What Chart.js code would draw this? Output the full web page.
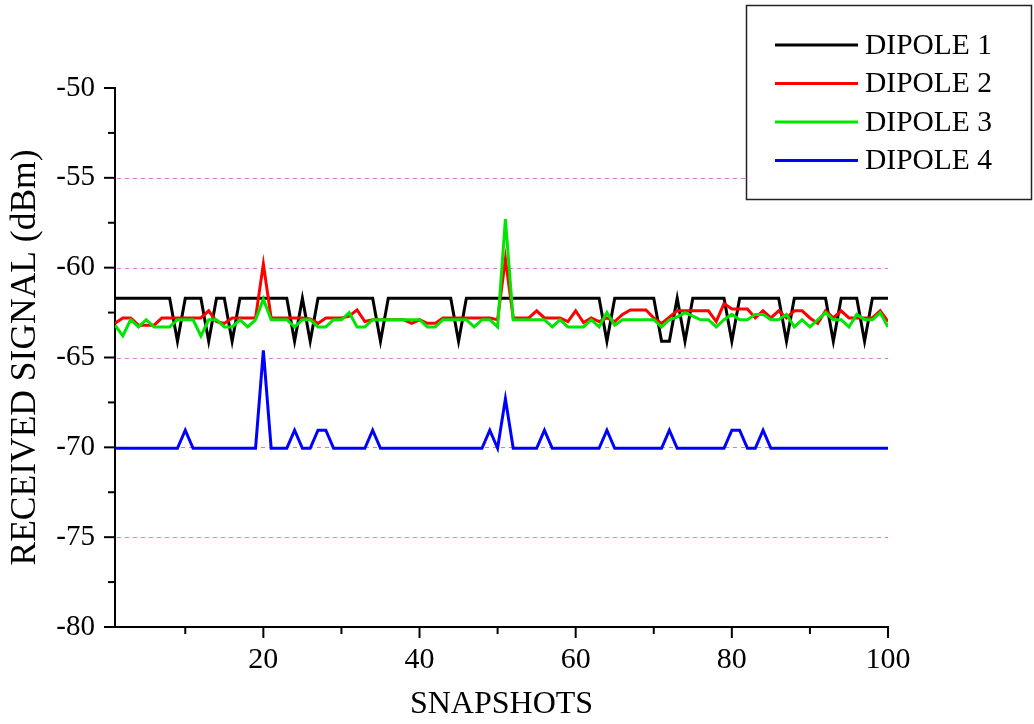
<!DOCTYPE html>
<html>
<head>
<meta charset="utf-8">
<title>Received signal</title>
<script src="https://cdn.jsdelivr.net/npm/chart.js@4.4.1/dist/chart.umd.min.js"></script>
<style>
  html, body { margin: 0; padding: 0; background: #fff; }
  canvas { display: block; }
</style>
</head>
<body>
<canvas id="chart" width="1034" height="724"></canvas>
<script>
// snapshot index 1..100
const snapshots = Array.from({ length: 100 }, (_, i) => i + 1)

const dipole1 = [
  -61.7, -61.7, -61.7, -61.7, -61.7, -61.7, -61.7, -61.7, -64.1, -61.7,
  -61.7, -61.7, -64.1, -61.7, -61.7, -64.1, -61.7, -61.7, -61.7, -61.7,
  -61.7, -61.7, -61.7, -64.1, -61.7, -64.1, -61.7, -61.7, -61.7, -61.7,
  -61.7, -61.7, -61.7, -61.7, -64.1, -61.7, -61.7, -61.7, -61.7, -61.7,
  -61.7, -61.7, -61.7, -61.7, -64.1, -61.7, -61.7, -61.7, -61.7, -61.7,
  -61.7, -61.7, -61.7, -61.7, -61.7, -61.7, -61.7, -61.7, -61.7, -61.7,
  -61.7, -61.7, -61.7, -64.1, -61.7, -61.7, -61.7, -61.7, -61.7, -61.7,
  -64.1, -64.1, -61.7, -64.1, -61.7, -61.7, -61.7, -61.7, -61.7, -64.1,
  -61.7, -61.7, -61.7, -61.7, -61.7, -61.7, -64.1, -61.7, -61.7, -61.7,
  -61.7, -61.7, -64.1, -61.7, -61.7, -61.7, -64.1, -61.7, -61.7, -61.7
]

const dipole2 = [
  -63.1, -62.8, -62.8, -63.2, -63.2, -63.2, -62.8, -62.8, -62.8, -62.8,
  -62.8, -62.8, -62.4, -63.0, -63.1, -62.8, -62.8, -62.8, -62.8, -59.8,
  -62.8, -62.8, -62.8, -62.8, -62.8, -62.85, -63.1, -62.8, -62.8, -62.8,
  -62.7, -62.35, -63.0, -62.9, -62.9, -62.9, -62.9, -62.9, -63.1, -62.9,
  -63.1, -63.1, -62.8, -62.8, -62.8, -62.8, -62.8, -62.8, -62.8, -62.9,
  -59.5, -62.8, -62.8, -62.8, -62.4, -62.8, -62.8, -62.8, -63.0, -62.4,
  -63.05, -62.8, -63.0, -62.8, -63.0, -62.6, -62.35, -62.35, -62.35, -62.8,
  -63.1, -62.75, -62.4, -62.4, -62.4, -62.4, -62.4, -63.0, -62.0, -62.3,
  -62.3, -62.3, -62.8, -62.4, -62.8, -62.4, -62.8, -62.4, -62.4, -62.8,
  -63.1, -62.4, -62.8, -62.4, -62.8, -62.8, -62.8, -62.8, -62.4, -63.0
]

const dipole3 = [
  -63.2, -63.8, -62.9, -63.3, -62.9, -63.3, -63.3, -63.3, -62.9, -62.9,
  -62.9, -63.8, -62.9, -62.9, -63.3, -63.3, -62.9, -63.3, -62.9, -61.75,
  -62.9, -62.9, -62.9, -63.3, -62.9, -62.9, -63.3, -63.3, -62.9, -62.9,
  -62.5, -63.3, -63.3, -62.9, -62.9, -62.9, -62.9, -62.9, -62.9, -62.9,
  -63.3, -63.3, -62.9, -62.9, -62.9, -62.9, -63.3, -62.9, -62.9, -63.3,
  -57.3, -62.9, -62.9, -62.9, -62.9, -62.9, -63.3, -62.9, -63.3, -63.3,
  -63.3, -62.9, -63.3, -62.5, -63.2, -62.9, -62.9, -62.9, -62.9, -62.9,
  -63.3, -62.9, -62.75, -62.5, -62.7, -62.9, -62.9, -63.3, -62.9, -62.6,
  -62.9, -62.9, -62.6, -62.6, -62.9, -62.9, -62.6, -63.3, -62.9, -63.3,
  -62.9, -62.5, -62.9, -62.9, -63.3, -62.6, -62.9, -62.9, -62.5, -63.3
]

const dipole4 = [
  -70.05, -70.05, -70.05, -70.05, -70.05, -70.05, -70.05, -70.05, -70.05, -69.05,
  -70.05, -70.05, -70.05, -70.05, -70.05, -70.05, -70.05, -70.05, -70.05, -64.6,
  -70.05, -70.05, -70.05, -69.05, -70.05, -70.05, -69.05, -69.05, -70.05, -70.05,
  -70.05, -70.05, -70.05, -69.05, -70.05, -70.05, -70.05, -70.05, -70.05, -70.05,
  -70.05, -70.05, -70.05, -70.05, -70.05, -70.05, -70.05, -70.05, -69.05, -70.05,
  -67.3, -70.05, -70.05, -70.05, -70.05, -69.05, -70.05, -70.05, -70.05, -70.05,
  -70.05, -70.05, -70.05, -69.05, -70.05, -70.05, -70.05, -70.05, -70.05, -70.05,
  -70.05, -69.05, -70.05, -70.05, -70.05, -70.05, -70.05, -70.05, -70.05, -69.05,
  -69.05, -70.05, -70.05, -69.05, -70.05, -70.05, -70.05, -70.05, -70.05, -70.05,
  -70.05, -70.05, -70.05, -70.05, -70.05, -70.05, -70.05, -70.05, -70.05, -70.05
]

const seriesNames = ['DIPOLE 1', 'DIPOLE 2', 'DIPOLE 3', 'DIPOLE 4']
const seriesColors = ['#000000', '#ff0000', '#00e600', '#0000ff']

const xTicks = [20, 40, 60, 80, 100]
const xMinorTicks = [10, 30, 50, 70, 90]
const yTicks = [-80, -75, -70, -65, -60, -55, -50]
const yMinorTicks = [-77.5, -72.5, -67.5, -62.5, -57.5, -52.5]
const yGridLines = [-75, -70, -65, -60, -55]

const SERIF = "'Liberation Serif', 'Times New Roman', serif"

const toPoints = arr => arr.map((v, i) => ({ x: snapshots[i], y: v }))

// pink dashed grid + outward tick marks, drawn off the chart's own scales
const axisDecor = {
  id: 'axisDecor',
  beforeDatasetsDraw(chart) {
    const { ctx, chartArea, scales: { y } } = chart
    ctx.save()
    ctx.strokeStyle = '#e070e0'
    ctx.lineWidth = 1
    ctx.setLineDash([4, 4])
    yGridLines.forEach(v => {
      const py = Math.round(y.getPixelForValue(v)) + 0.5
      ctx.beginPath()
      ctx.moveTo(chartArea.left + 2, py)
      ctx.lineTo(chartArea.right, py)
      ctx.stroke()
    })
    ctx.restore()
  },
  afterDraw(chart) {
    const { ctx, chartArea, scales: { x, y } } = chart
    ctx.save()
    ctx.strokeStyle = '#000'
    ctx.lineWidth = 2
    const tick = (x1, y1, x2, y2) => {
      ctx.beginPath()
      ctx.moveTo(x1, y1)
      ctx.lineTo(x2, y2)
      ctx.stroke()
    }
    const left = chartArea.left
    const bottom = chartArea.bottom
    yTicks.forEach(v => { const py = y.getPixelForValue(v); tick(left, py, left - 11, py) })
    yMinorTicks.forEach(v => { const py = y.getPixelForValue(v); tick(left, py, left - 7, py) })
    xTicks.forEach(v => { const px = x.getPixelForValue(v); tick(px, bottom, px, bottom + 11) })
    xMinorTicks.forEach(v => { const px = x.getPixelForValue(v); tick(px, bottom, px, bottom + 7) })
    ctx.restore()
  }
}

// boxed legend in the top right corner
const boxLegend = {
  id: 'boxLegend',
  afterDraw(chart) {
    const { ctx } = chart
    ctx.save()
    ctx.fillStyle = '#fff'
    ctx.fillRect(746, 5, 286, 195)
    ctx.strokeStyle = '#222'
    ctx.lineWidth = 1.5
    ctx.strokeRect(746.5, 5.5, 285, 194)
    ctx.font = '29.5px ' + SERIF
    ctx.textBaseline = 'middle'
    chart.data.datasets.forEach((ds, i) => {
      const rowY = 45 + i * 38.5
      ctx.strokeStyle = ds.borderColor
      ctx.lineWidth = 3
      ctx.beginPath()
      ctx.moveTo(775, rowY)
      ctx.lineTo(858, rowY)
      ctx.stroke()
      ctx.fillStyle = '#000'
      ctx.fillText(ds.label, 865, rowY + 1)
    })
    ctx.restore()
  }
}

const datasets = [dipole1, dipole2, dipole3, dipole4].map((values, i) => ({
  label: seriesNames[i],
  data: toPoints(values),
  borderColor: seriesColors[i],
  backgroundColor: seriesColors[i],
  borderWidth: 3,
  pointRadius: 0,
  tension: 0,
  fill: false,
  order: 4 - i
}))

new Chart(document.getElementById('chart'), {
  type: 'line',
  data: { datasets },
  plugins: [axisDecor, boxLegend],
  options: {
    responsive: false,
    animation: false,
    devicePixelRatio: 1,
    layout: { padding: { top: 88, right: 146, left: 0, bottom: 0 } },
    plugins: {
      legend: { display: false },
      tooltip: { enabled: false }
    },
    scales: {
      x: {
        type: 'linear',
        min: 1,
        max: 100,
        afterBuildTicks: s => { s.ticks = xTicks.map(v => ({ value: v })) },
        afterFit: s => { s.height = 97 },
        grid: { display: false, drawTicks: false },
        border: { display: true, color: '#000', width: 2 },
        ticks: { padding: 15, color: '#000', font: { family: SERIF, size: 30 } },
        title: {
          display: true,
          text: 'SNAPSHOTS',
          color: '#000',
          font: { family: SERIF, size: 32 },
          padding: { top: 0, bottom: 0 }
        }
      },
      y: {
        min: -80,
        max: -50,
        afterBuildTicks: s => { s.ticks = yTicks.map(v => ({ value: v })) },
        afterFit: s => { s.width = 115 },
        grid: { display: false, drawTicks: false },
        border: { display: true, color: '#000', width: 2 },
        ticks: { padding: 20, color: '#000', font: { family: SERIF, size: 29 } },
        title: {
          display: true,
          text: 'RECEIVED SIGNAL (dBm)',
          color: '#000',
          font: { family: SERIF, size: 35.5 },
          padding: { top: 4, bottom: 0 }
        }
      }
    }
  }
})
</script>
</body>
</html>
